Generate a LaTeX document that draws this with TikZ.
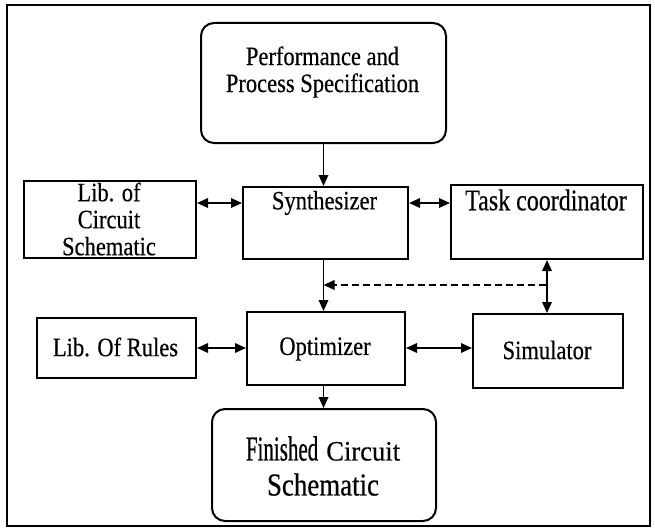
\documentclass[tikz,border=0pt]{standalone}
\usepackage{fontspec}
\setmainfont{Liberation Serif}
% condensed serif cuts used for the labels
\newfontfamily\bodyfont[FakeStretch=0.85,FakeBold=0.4]{Liberation Serif}
\newfontfamily\taskfont[FakeStretch=0.8,FakeBold=0.4]{Liberation Serif}
\newfontfamily\finfont[FakeStretch=0.6,FakeBold=0.5]{Liberation Serif}
\newfontfamily\circfont[FakeStretch=0.95,FakeBold=0.4]{Liberation Serif}
\newfontfamily\schemfont[FakeStretch=0.84,FakeBold=0.5]{Liberation Serif}
\usetikzlibrary{arrows.meta}

\begin{document}
\begin{tikzpicture}[x=1pt,y=-1pt,
  blockbox/.style={draw, line width=2pt, inner sep=0pt, anchor=north west},
  roundbox/.style={blockbox, rounded corners=13pt},
  label text/.style={align=center, inner sep=0pt,
    font={\bodyfont\fontsize{26.5pt}{27pt}\selectfont}},
  task text/.style={align=center, inner sep=0pt,
    font={\taskfont\fontsize{30pt}{30pt}\selectfont}},
  flow/.style={line width=1.8pt, -{Triangle[length=11pt,width=9.5pt]}},
  twoway/.style={line width=1.8pt, {Triangle[length=11pt,width=9.5pt]}-{Triangle[length=11pt,width=9.5pt]}},
  feedback/.style={line width=1.8pt, dash pattern=on 7pt off 4pt, -{Triangle[length=11pt,width=9.5pt]}}]

\useasboundingbox (0,0) rectangle (655,532);
\fill[white] (0,0) rectangle (655,532);

% outer frame
\draw[line width=1.6pt] (7,5) rectangle (650,526);

% blocks
\node[roundbox, minimum width=245pt, minimum height=120pt] (perf) at (200,22) {};
\node[blockbox, minimum width=172pt, minimum height=77pt] (libc) at (23,180) {};
\node[blockbox, minimum width=165pt, minimum height=72pt] (synth) at (242,186) {};
\node[blockbox, minimum width=192pt, minimum height=74pt] (task) at (450,184) {};
\node[blockbox, minimum width=159pt, minimum height=60pt] (rules) at (36,317) {};
\node[blockbox, minimum width=158pt, minimum height=73pt] (opt) at (246,311) {};
\node[blockbox, minimum width=150pt, minimum height=74pt] (sim) at (472,313) {};
\node[roundbox, minimum width=224pt, minimum height=112pt] (fin) at (211,408) {};

% labels
\node[label text] (perfT) at (322.5,72) {Performance and\\Process Specification};
\node[label text] (libcT) at (109,219) {Lib. of\\Circuit\\Schematic};
\node[label text] (synthT) at (324.5,203) {Synthesizer};
\node[task text] (taskT) at (546,200) {Task coordinator};
\node[label text] (rulesT) at (115.5,347) {Lib. Of Rules};
\node[label text] (optT) at (325,349) {Optimizer};
\node[label text] (simT) at (547,350) {Simulator};
\node[align=center, inner sep=0pt, font={\fontsize{32pt}{35pt}\selectfont}] (finT) at (323,466)
  {{\finfont\fontsize{35pt}{35pt}\selectfont Finished} {\circfont\fontsize{28pt}{35pt}\selectfont Circuit}\\
   {\schemfont\fontsize{32pt}{35pt}\selectfont Schematic}};

% main flow
\draw[flow] (perf.south) -- (perf.south |- synth.north);
\draw[flow] (synth.south -| perf.south) -- (opt.north -| perf.south);
\draw[flow] (opt.south -| perf.south) -- (fin.north -| perf.south);

% exchanges between neighbouring blocks
\draw[twoway] (libc.east |- synthT) -- (synth.west |- synthT);
\draw[twoway] (synth.east |- synthT) -- (task.west |- synthT);
\draw[twoway] (rules.east) -- (opt.west |- rules.east);
\draw[twoway] (opt.east |- rules.east) -- (sim.west |- rules.east);
\draw[twoway] (task.south) -- (task.south |- sim.north);

% feedback from the coordinator link into the synthesizer output
\coordinate (fbR) at (546,285);
\draw[feedback] (fbR) -- (fbR -| perf.south);

\end{tikzpicture}
\end{document}
